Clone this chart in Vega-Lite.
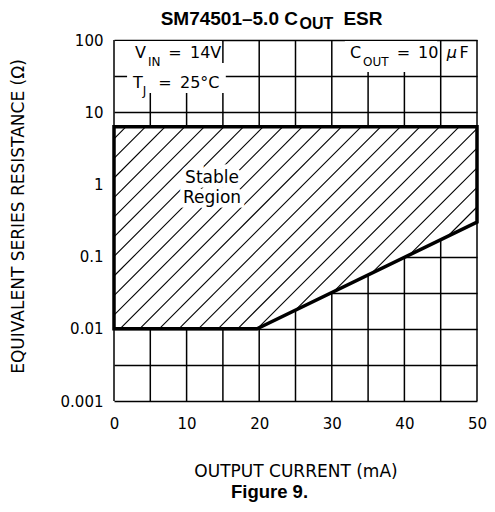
{
  "$schema": "https://vega.github.io/schema/vega-lite/v6.json",
  "width": 363,
  "height": 361,
  "autosize": "none",
  "padding": {"left": 114, "top": 40, "right": 18, "bottom": 111},
  "background": "white",
  "config": {"view": {"stroke": null}, "font": "DejaVu Sans"},
  "title": {"text": "Figure 9.", "orient": "bottom", "font": "Liberation Sans", "fontWeight": "bold", "fontSize": 18.5, "color": "black", "dx": -26, "offset": 4},
  "datasets": {
    "gridx": [
      {"v": 0}, {"v": 5}, {"v": 10}, {"v": 15}, {"v": 20}, {"v": 25},
      {"v": 30}, {"v": 35}, {"v": 40}, {"v": 45}, {"v": 50}
    ],
    "region": [
      {"x": 0, "lo": 0.01, "hi": 6.3},
      {"x": 19.7, "lo": 0.01, "hi": 6.3},
      {"x": 50, "lo": 0.3, "hi": 6.3}
    ],
    "boundary": [
      {"x": 0, "y": 0.01, "order": 1},
      {"x": 19.7, "y": 0.01, "order": 2},
      {"x": 50, "y": 0.3, "order": 3},
      {"x": 50, "y": 6.3, "order": 4},
      {"x": 0, "y": 6.3, "order": 5},
      {"x": 0, "y": 0.01, "order": 6}
    ],
    "hatch": [
      {"x1": 1.667, "y1": 6.3, "x2": 0, "y2": 4.28},
      {"x1": 4.366, "y1": 6.3, "x2": 0, "y2": 2.292},
      {"x1": 7.066, "y1": 6.3, "x2": 0, "y2": 1.226},
      {"x1": 9.766, "y1": 6.3, "x2": 0, "y2": 0.6564},
      {"x1": 12.466, "y1": 6.3, "x2": 0, "y2": 0.3513},
      {"x1": 15.165, "y1": 6.3, "x2": 0, "y2": 0.188},
      {"x1": 17.865, "y1": 6.3, "x2": 0, "y2": 0.1006},
      {"x1": 20.565, "y1": 6.3, "x2": 0, "y2": 0.05386},
      {"x1": 23.264, "y1": 6.3, "x2": 0, "y2": 0.02883},
      {"x1": 25.964, "y1": 6.3, "x2": 0, "y2": 0.01543},
      {"x1": 28.664, "y1": 6.3, "x2": 0.826, "y2": 0.01},
      {"x1": 31.364, "y1": 6.3, "x2": 3.526, "y2": 0.01},
      {"x1": 34.063, "y1": 6.3, "x2": 6.226, "y2": 0.01},
      {"x1": 36.763, "y1": 6.3, "x2": 8.926, "y2": 0.01},
      {"x1": 39.463, "y1": 6.3, "x2": 11.625, "y2": 0.01},
      {"x1": 42.163, "y1": 6.3, "x2": 14.325, "y2": 0.01},
      {"x1": 44.862, "y1": 6.3, "x2": 17.025, "y2": 0.01},
      {"x1": 47.562, "y1": 6.3, "x2": 19.75, "y2": 0.01006},
      {"x1": 50, "y1": 5.928, "x2": 24.988, "y2": 0.0181},
      {"x1": 50, "y1": 3.172, "x2": 30.226, "y2": 0.03258},
      {"x1": 50, "y1": 1.698, "x2": 35.463, "y2": 0.05864},
      {"x1": 50, "y1": 0.9087, "x2": 40.701, "y2": 0.1055},
      {"x1": 50, "y1": 0.4864, "x2": 45.938, "y2": 0.1899}
    ],
    "boxes": [
      {"x": 0.15, "x2": 14.85, "y": 43.6, "y2": 96.9},
      {"x": 1.8, "x2": 15.4, "y": 18.45, "y2": 48.0},
      {"x": 31.8, "x2": 44.5, "y": 36.0, "y2": 96.9}
    ],
    "labels": [
      {"x": 2.89, "y": 55.8, "text": "V", "role": "main"},
      {"x": 4.68, "y": 43.5, "text": "IN", "role": "sub"},
      {"x": 7.48, "y": 55.8, "text": "=", "role": "main"},
      {"x": 10.47, "y": 55.8, "text": "14V", "role": "main"},
      {"x": 2.62, "y": 21.4, "text": "T", "role": "main"},
      {"x": 3.95, "y": 17.5, "text": "J", "role": "sub"},
      {"x": 6.1, "y": 21.4, "text": "=", "role": "main"},
      {"x": 9.09, "y": 21.4, "text": "25°C", "role": "main"},
      {"x": 32.5, "y": 55.8, "text": "C", "role": "main"},
      {"x": 34.3, "y": 43.5, "text": "OUT", "role": "sub"},
      {"x": 38.94, "y": 55.8, "text": "=", "role": "main"},
      {"x": 41.87, "y": 55.8, "text": "10", "role": "main"},
      {"x": 45.83, "y": 55.8, "text": "μ", "role": "italic"},
      {"x": 47.6, "y": 55.8, "text": "F", "role": "main"},
      {"x": 13.5, "y": 1.035, "text": "Stable", "role": "region"},
      {"x": 13.5, "y": 0.547, "text": "Region", "role": "region"},
      {"x": 25.34, "y": 161.4, "text": "SM74501–5.0 C", "role": "titleR"},
      {"x": 25.55, "y": 140.7, "text": "OUT", "role": "titleSub"},
      {"x": 31.6, "y": 161.4, "text": "ESR", "role": "titleL"}
    ]
  },
  "layer": [
    {
      "data": {"name": "gridx"},
      "mark": {"type": "rule", "stroke": "black", "strokeWidth": 1.5},
      "encoding": {
        "x": {
          "field": "v", "type": "quantitative",
          "scale": {"domain": [0, 50], "nice": false, "zero": false},
          "axis": {
            "values": [0, 10, 20, 30, 40, 50],
            "grid": false, "ticks": false, "domain": false, "labelFlush": false, "labelOverlap": false,
            "labelFont": "DejaVu Sans", "labelFontSize": 15, "labelColor": "black", "labelPadding": 15,
            "title": "OUTPUT CURRENT (mA)", "titleFont": "DejaVu Sans", "titleFontSize": 17,
            "titleFontWeight": "normal", "titleColor": "black",
            "titleX": 181.5, "titleY": 75, "titleAlign": "center", "titleBaseline": "alphabetic"
          }
        }
      }
    },
    {
      "data": {"name": "region"},
      "mark": {"type": "area", "fill": "white", "opacity": 1},
      "encoding": {
        "x": {"field": "x", "type": "quantitative"},
        "y": {
          "field": "lo", "type": "quantitative",
          "scale": {"type": "log", "domain": [0.001, 100], "nice": false},
          "axis": {
            "values": [0.001, 0.0031623, 0.01, 0.031623, 0.1, 0.31623, 1, 3.1623, 10, 31.623, 100],
            "format": "~g",
            "grid": true, "gridColor": "black", "gridWidth": 1.5, "gridOpacity": 1,
            "ticks": false, "domain": false, "labelFlush": false, "labelOverlap": false,
            "labelExpr": "abs(log(datum.value)/LN10 - round(log(datum.value)/LN10)) < 0.01 ? datum.label : ''",
            "labelFont": "DejaVu Sans", "labelFontSize": 15, "labelColor": "black", "labelPadding": 11,
            "title": "EQUIVALENT SERIES RESISTANCE (Ω)", "titleFont": "DejaVu Sans", "titleFontSize": 17,
            "titleFontWeight": "normal", "titleColor": "black",
            "titleX": -96, "titleY": 176, "titleAngle": 270, "titleAlign": "center", "titleBaseline": "middle"
          }
        },
        "y2": {"field": "hi"}
      }
    },
    {
      "data": {"name": "hatch"},
      "mark": {"type": "rule", "stroke": "black", "strokeWidth": 1.1},
      "encoding": {
        "x": {"field": "x1", "type": "quantitative"},
        "y": {"field": "y1", "type": "quantitative"},
        "x2": {"field": "x2"},
        "y2": {"field": "y2"}
      }
    },
    {
      "data": {"name": "boxes"},
      "mark": {"type": "rect", "fill": "white", "opacity": 1},
      "encoding": {
        "x": {"field": "x", "type": "quantitative"},
        "x2": {"field": "x2"},
        "y": {"field": "y", "type": "quantitative"},
        "y2": {"field": "y2"}
      }
    },
    {
      "data": {"name": "labels"},
      "transform": [{"filter": "datum.role === 'region'"}],
      "mark": {"type": "text", "align": "center", "baseline": "alphabetic", "font": "DejaVu Sans", "fontSize": 17, "fill": "white", "stroke": "white", "strokeWidth": 9},
      "encoding": {"x": {"field": "x", "type": "quantitative"}, "y": {"field": "y", "type": "quantitative"}, "text": {"field": "text"}}
    },
    {
      "data": {"name": "labels"},
      "transform": [{"filter": "datum.role === 'main'"}],
      "mark": {"type": "text", "align": "left", "baseline": "alphabetic", "font": "DejaVu Sans", "fontSize": 16, "fill": "black"},
      "encoding": {"x": {"field": "x", "type": "quantitative"}, "y": {"field": "y", "type": "quantitative"}, "text": {"field": "text"}}
    },
    {
      "data": {"name": "labels"},
      "transform": [{"filter": "datum.role === 'italic'"}],
      "mark": {"type": "text", "align": "left", "baseline": "alphabetic", "font": "DejaVu Sans", "fontStyle": "italic", "fontSize": 16, "fill": "black"},
      "encoding": {"x": {"field": "x", "type": "quantitative"}, "y": {"field": "y", "type": "quantitative"}, "text": {"field": "text"}}
    },
    {
      "data": {"name": "labels"},
      "transform": [{"filter": "datum.role === 'sub'"}],
      "mark": {"type": "text", "align": "left", "baseline": "alphabetic", "font": "DejaVu Sans", "fontSize": 12, "fill": "black"},
      "encoding": {"x": {"field": "x", "type": "quantitative"}, "y": {"field": "y", "type": "quantitative"}, "text": {"field": "text"}}
    },
    {
      "data": {"name": "labels"},
      "transform": [{"filter": "datum.role === 'region'"}],
      "mark": {"type": "text", "align": "center", "baseline": "alphabetic", "font": "DejaVu Sans", "fontSize": 17, "fill": "black"},
      "encoding": {"x": {"field": "x", "type": "quantitative"}, "y": {"field": "y", "type": "quantitative"}, "text": {"field": "text"}}
    },
    {
      "data": {"name": "labels"},
      "transform": [{"filter": "datum.role === 'titleR'"}],
      "mark": {"type": "text", "align": "right", "baseline": "alphabetic", "font": "Liberation Sans", "fontWeight": "bold", "fontSize": 19, "fill": "black"},
      "encoding": {"x": {"field": "x", "type": "quantitative"}, "y": {"field": "y", "type": "quantitative"}, "text": {"field": "text"}}
    },
    {
      "data": {"name": "labels"},
      "transform": [{"filter": "datum.role === 'titleL'"}],
      "mark": {"type": "text", "align": "left", "baseline": "alphabetic", "font": "Liberation Sans", "fontWeight": "bold", "fontSize": 19, "fill": "black"},
      "encoding": {"x": {"field": "x", "type": "quantitative"}, "y": {"field": "y", "type": "quantitative"}, "text": {"field": "text"}}
    },
    {
      "data": {"name": "labels"},
      "transform": [{"filter": "datum.role === 'titleSub'"}],
      "mark": {"type": "text", "align": "left", "baseline": "alphabetic", "font": "Liberation Sans", "fontWeight": "bold", "fontSize": 16, "fill": "black"},
      "encoding": {"x": {"field": "x", "type": "quantitative"}, "y": {"field": "y", "type": "quantitative"}, "text": {"field": "text"}}
    },
    {
      "data": {"name": "boundary"},
      "mark": {"type": "line", "stroke": "black", "strokeWidth": 3.5, "strokeJoin": "miter", "strokeCap": "square"},
      "encoding": {
        "x": {"field": "x", "type": "quantitative"},
        "y": {"field": "y", "type": "quantitative"},
        "order": {"field": "order", "type": "quantitative"}
      }
    }
  ]
}
